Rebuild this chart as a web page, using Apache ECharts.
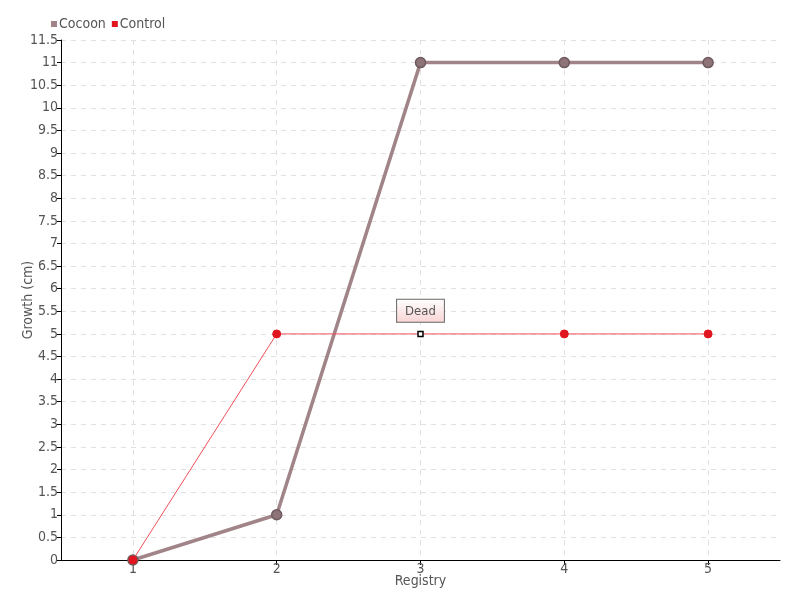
<!DOCTYPE html>
<html>
<head>
<meta charset="utf-8">
<script src="https://cdn.jsdelivr.net/npm/echarts@6/dist/echarts.min.js"></script>
<style>
  html, body { margin: 0; padding: 0; background: #fff; }
</style>
</head>
<body>
<div id="main" style="width: 800px;height: 600px;"></div>
<script>
var registry = [1, 2, 3, 4, 5];
var cocoon = [0, 1, 11, 11, 11];
var control = [0, 5, 5, 5, 5];
var deadIndex = 2;
var font = "'DejaVu Sans Condensed', 'Roboto', sans-serif";

var cocoonData = cocoon.map(function (v, i) { return [registry[i], v]; });
var controlData = control.map(function (v, i) {
  if (i !== deadIndex) return [registry[i], v];
  return {
    value: [registry[i], v],
    symbol: "rect",
    symbolSize: 5,
    itemStyle: { color: "#fff", borderColor: "#000", borderWidth: 1.5 },
    label: {
      show: true,
      position: "top",
      distance: 9,
      formatter: "Dead",
      fontFamily: font,
      fontSize: 13,
      color: "#555",
      padding: [5, 8, 4, 8],
      borderColor: "#666",
      borderWidth: 1,
      backgroundColor: {
        type: "linear", x: 0, y: 0, x2: 0, y2: 1,
        colorStops: [
          { offset: 0, color: "#ffffff" },
          { offset: 1, color: "#f8d4d4" },
        ],
      },
    },
  };
});

var myChart = echarts.init(document.getElementById("main"));
var option = {
  animation: false,
  textStyle: { fontFamily: font },
  legend: {
    left: 46,
    top: 12,
    itemWidth: 6,
    itemHeight: 6,
    itemGap: 6,
    icon: "rect",
    textStyle: { fontFamily: font, fontSize: 14, color: "#555", padding: [0, 0, 0, -3] },
    data: [
      { name: "Cocoon", itemStyle: { color: "#a08488", borderWidth: 0 } },
      { name: "Control", itemStyle: { color: "#e0151f", borderWidth: 0 } },
    ],
  },
  grid: { left: 61, right: 20, top: 40, bottom: 40 },
  xAxis: {
    type: "value",
    min: 0.5,
    max: 5.5,
    name: "Registry",
    nameLocation: "middle",
    nameGap: 14,
    nameMoveOverlap: false,
    nameTextStyle: { fontFamily: font, fontSize: 14, color: "#555" },
    axisLine: { lineStyle: { color: "#000" } },
    axisTick: { customValues: registry, length: 5, lineStyle: { color: "#000" } },
    axisLabel: { customValues: registry, fontFamily: font, fontSize: 14, color: "#555", margin: 2 },
    splitLine: { show: true, lineStyle: { color: "#e0e0e0", type: [5, 5] } },
  },
  yAxis: {
    type: "value",
    min: 0,
    max: 11.5,
    interval: 0.5,
    name: "Growth (cm)",
    nameLocation: "middle",
    nameGap: 26,
    nameMoveOverlap: false,
    nameTextStyle: { fontFamily: font, fontSize: 14, color: "#555" },
    axisLine: { show: true, lineStyle: { color: "#000" } },
    axisTick: { show: true, length: 4, lineStyle: { color: "#000" } },
    axisLabel: { fontFamily: font, fontSize: 14, color: "#555", margin: 3 },
    splitLine: { show: true, lineStyle: { color: "#e0e0e0", type: [5, 5] } },
  },
  series: [
    {
      name: "Cocoon",
      type: "line",
      data: cocoonData,
      symbol: "circle",
      symbolSize: 10,
      z: 2,
      lineStyle: { color: "#a08488", width: 3.5 },
      itemStyle: { color: "#8e7378", borderColor: "#6e5a5e", borderWidth: 1.5 },
    },
    {
      name: "Control",
      type: "line",
      data: controlData,
      symbol: "circle",
      symbolSize: 8,
      z: 3,
      lineStyle: { color: "#f0505a", width: 1 },
      itemStyle: { color: "#e0151f", borderColor: "#e0151f", borderWidth: 1 },
    },
  ],
  color: ["#a08488", "#e0151f"],
};
myChart.setOption(option);
</script>
</body>
</html>
